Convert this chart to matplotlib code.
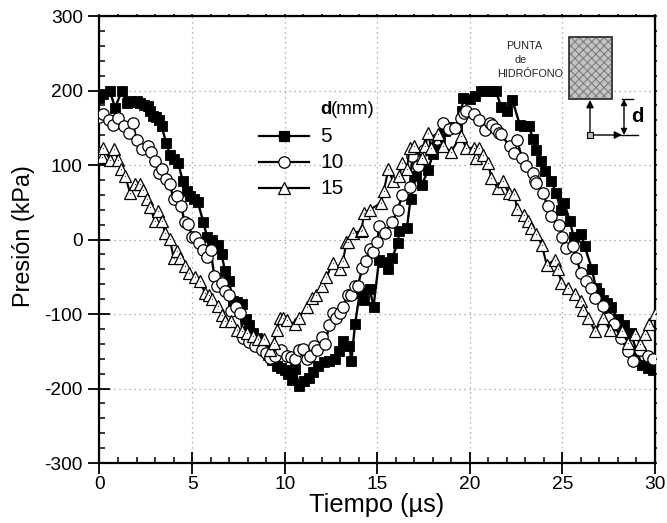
import matplotlib
matplotlib.use("Agg")
import matplotlib.pyplot as plt
from matplotlib.patches import Rectangle
from matplotlib.ticker import MultipleLocator

plt.rcParams['font.family'] = ['Liberation Sans', 'DejaVu Sans']
plt.rcParams['hatch.linewidth'] = 0.7
plt.rcParams['axes.unicode_minus'] = False

t5 = [0.0,0.2,0.56,0.84,1.2,1.47,1.65,1.85,2.05,2.2,2.4,2.6,2.75,2.9,3.05,3.2,3.35,3.6,3.8,4.0,4.25,4.5,4.7,4.9,5.1,5.3,5.6,5.8,6.1,6.4,6.6,6.77,7.0,7.2,7.45,7.67,7.9,8.1,8.3,8.5,8.7,8.9,9.1,9.3,9.56,9.8,10.0,10.2,10.4,10.55,10.8,11.05,11.3,11.55,11.8,12.1,12.4,12.7,12.95,13.15,13.5,13.6,13.8,14.05,14.3,14.6,14.8,15.1,15.35,15.6,15.8,16.1,16.2,16.6,16.8,17.1,17.4,17.75,18.0,18.2,18.4,18.65,18.9,19.1,19.3,19.55,19.65,20.0,20.3,20.6,20.8,21.0,21.2,21.4,21.7,22.0,22.3,22.7,22.95,23.2,23.4,23.6,23.85,24.04,24.4,24.67,24.9,25.1,25.4,25.6,26.0,26.2,26.6,26.8,27.0,27.2,27.4,27.6,28.0,28.35,28.7,29.0,29.3,29.6,29.9]
d5 = [190,195,199,177,199,183,186,185,186,183,181,179,172,166,164,161,152,130,114,108,103,78,65,58,55,51,24,4,0,-8,-20,-42,-56,-83,-84,-87,-107,-115,-125,-132,-140,-148,-155,-162,-170,-172,-175,-180,-188,-174,-197,-190,-186,-178,-170,-165,-163,-161,-150,-136,-143,-163,-114,-72,-81,-67,-90,-27,-30,-40,-25,-5,11,15,55,85,73,93,115,125,135,145,151,150,150,173,190,188,192,199,199,199,199,199,178,172,187,154,152,152,135,120,105,92,78,62,40,49,25,4,7,-9,-40,-65,-72,-81,-85,-90,-107,-115,-125,-150,-168,-172,-175]
t10 = [0.0,0.2,0.5,0.75,1.0,1.3,1.6,1.8,2.0,2.27,2.6,2.8,3.0,3.2,3.4,3.6,3.8,4.0,4.2,4.4,4.6,4.8,5.0,5.15,5.4,5.6,5.8,6.0,6.2,6.36,6.6,6.77,7.0,7.1,7.35,7.6,7.76,8.1,8.4,8.75,9.0,9.2,9.47,9.8,10.1,10.35,10.55,10.8,11.0,11.2,11.35,11.6,11.75,12.0,12.2,12.4,12.6,12.75,13.0,13.15,13.4,13.6,13.8,13.95,14.2,14.4,14.6,14.75,15.0,15.1,15.4,15.8,16.1,16.36,16.75,16.9,17.2,17.5,17.8,18.2,18.55,18.9,19.2,19.5,19.7,19.8,20.2,20.5,20.8,21.1,21.2,21.4,21.6,21.7,22.15,22.4,22.55,22.8,23.05,23.4,23.5,23.6,23.95,24.2,24.4,24.8,25.0,25.2,25.55,25.75,26.0,26.3,26.55,26.75,27.2,27.45,27.8,28.15,28.55,28.8,29.2,29.6,29.9]
d10 = [165,168,160,154,163,152,143,156,134,122,126,118,106,89,94,81,74,54,58,45,24,21,4,3,-5,-14,-23,-14,-49,-63,-58,-69,-74,-96,-90,-99,-132,-138,-143,-148,-152,-159,-157,-148,-157,-158,-160,-148,-147,-160,-157,-143,-148,-131,-140,-115,-98,-106,-98,-90,-74,-74,-62,-62,-38,-29,-13,-17,-4,18,9,23,40,60,71,112,98,120,130,135,157,148,150,163,170,172,168,161,147,157,154,148,143,141,125,116,134,110,99,89,78,76,62,45,31,20,4,-11,-9,-25,-45,-56,-65,-78,-89,-105,-114,-132,-150,-163,-148,-157,-161]
t15 = [0.0,0.12,0.2,0.57,0.8,1.0,1.15,1.4,1.65,1.92,2.2,2.37,2.55,2.73,3.0,3.18,3.4,3.53,3.8,4.0,4.17,4.35,4.6,4.85,5.15,5.42,5.7,5.9,6.1,6.4,6.6,6.77,7.1,7.4,7.67,7.94,8.3,8.57,8.9,9.2,9.4,9.6,9.74,9.9,10.1,10.55,10.76,11.2,11.45,11.7,12.0,12.25,12.6,12.97,13.15,13.33,13.4,13.7,14.1,14.15,14.3,14.6,15.2,15.35,15.6,15.85,16.2,16.35,16.6,16.75,17.0,17.4,17.6,17.75,17.9,18.3,18.55,19.0,19.5,19.8,20.2,20.35,20.5,20.7,21.0,21.15,21.5,21.8,22.1,22.4,22.55,22.9,23.15,23.3,23.6,23.9,24.15,24.6,24.75,24.95,25.3,25.7,26.0,26.1,26.4,26.75,27.2,27.55,28.2,28.55,28.9,29.2,29.45,29.7,30.0]
d15 = [118,111,123,107,121,107,95,85,62,74,74,66,54,43,25,38,25,9,1,-25,-16,-25,-35,-45,-50,-56,-72,-75,-80,-89,-102,-110,-110,-121,-123,-125,-130,-134,-134,-148,-139,-121,-105,-105,-108,-114,-105,-90,-78,-74,-62,-51,-31,-40,-29,-4,-4,9,11,13,36,40,49,65,94,78,85,103,94,123,125,109,126,143,123,141,125,118,139,123,123,109,123,114,103,83,69,78,62,61,41,33,25,16,7,-8,-34,-27,-40,-58,-65,-73,-82,-94,-105,-123,-105,-121,-123,-139,-127,-140,-127,-114,-100]
legend_labels = ['5', '10', '15']

W, H = 667, 523
fig = plt.figure(figsize=(W/100, H/100), dpi=100)
ax = fig.add_axes([99.5/W, 1-463/H, 555.5/W, 447/H])

MS_S, MS_C, MS_T = 7.3, 8.2, 9.0
ax.plot(t5, d5, '-s', color='k', mfc='k', mec='k', ms=MS_S, mew=0.6, lw=1.7, zorder=3)
ax.plot(t10, d10, '-o', color='k', mfc='w', mec='k', ms=MS_C, mew=0.9, lw=1.7, zorder=4)
ax.plot(t15, d15, '-^', color='k', mfc='w', mec='k', ms=MS_T, mew=0.9, lw=1.5, zorder=5)
ax.plot(t15, d15, 'o', color='#333333', ms=0.9, mew=0, zorder=5.5)

ax.set_xlim(0, 30)
ax.set_ylim(-300, 300)
ax.xaxis.set_major_locator(MultipleLocator(5))
ax.xaxis.set_minor_locator(MultipleLocator(1))
ax.yaxis.set_major_locator(MultipleLocator(100))
ax.yaxis.set_minor_locator(MultipleLocator(20))
ax.grid(True, which='major', color='#999999', linestyle=(0, (1, 3)), linewidth=0.9)
ax.set_axisbelow(True)
ax.tick_params(which='major', direction='inout', length=16, width=1.3, labelsize=13.8)
ax.tick_params(axis='x', which='major', pad=1.5)
ax.tick_params(axis='y', which='major', pad=4)
ax.tick_params(which='minor', direction='in', length=4.3, width=1.1)
for s in ax.spines.values():
    s.set_linewidth(1.6)

top = ax.secondary_xaxis('top')
top.xaxis.set_major_locator(MultipleLocator(1))
top.tick_params(which='major', direction='out', length=1.2, width=1.1, labeltop=False)
right = ax.secondary_yaxis('right')
right.yaxis.set_major_locator(MultipleLocator(20))
right.tick_params(which='major', direction='out', length=1.2, width=1.1, labelright=False)

fig.text(376.5/W, 1-505/H, 'Tiempo (\u00b5s)', fontsize=18.3, ha='center', va='center')
fig.text(24/W, 1-236/H, 'Presi\u00f3n (kPa)', fontsize=16.8, ha='center', va='center', rotation=90)

def px(x, y):
    return (x-99.5)/555.5, (463-y)/447
T = ax.transAxes
ax.text(*px(320, 109), 'd', transform=T, fontsize=13.5, fontweight='bold', va='center', ha='left', zorder=6)
ax.text(*px(331, 109), '(mm)', transform=T, fontsize=13.5, va='center', ha='left', zorder=6)
handles = [('s', 'k', MS_S), ('o', 'w', MS_C), ('^', 'w', MS_T)]
for (m, fc, ms), lab, y in zip(handles, legend_labels, (136, 162, 188)):
    x0, yy = px(259, y)
    x1, _ = px(309, y)
    ax.plot([x0, x1], [yy, yy], '-', color='k', lw=1.6, transform=T, zorder=6)
    ax.plot([(x0+x1)/2], [yy], m, mfc=fc, mec='k', ms=ms, mew=0.9, transform=T, zorder=6)
    ax.text(*px(320, y), lab, transform=T, fontsize=15, va='center', ha='left', zorder=6)

x0, y1 = px(569, 99)
x1, y0 = px(612, 37)
ax.add_patch(Rectangle((x0, y1), x1-x0, y0-y1, transform=T, facecolor='#c4c4c4', edgecolor='none', zorder=6))
ax.add_patch(Rectangle((x0, y1), x1-x0, y0-y1, transform=T, facecolor='none', edgecolor='#777777',
                       hatch='xxxx', lw=0, zorder=6))
ax.add_patch(Rectangle((x0, y1), x1-x0, y0-y1, transform=T, facecolor='none', edgecolor='#333333',
                       lw=1.3, zorder=6))
for txt, x, y in (('PUNTA', 524, 46), ('de', 521, 60), ('HIDR\u00d3FONO', 530, 74)):
    ax.text(*px(x, y), txt, transform=T, fontsize=7.8, ha='center', va='center', color='#222222', zorder=6)
arrow = dict(arrowstyle='-|>', color='k', lw=1.0, shrinkA=0, shrinkB=0, mutation_scale=11)
arrow2 = dict(arrowstyle='<|-|>', color='k', lw=1.0, shrinkA=0, shrinkB=0, mutation_scale=9)
ax.annotate('', xy=px(590, 100), xytext=px(590, 135), xycoords=T, textcoords=T, arrowprops=arrow, zorder=6)
ax.annotate('', xy=px(622, 135), xytext=px(590, 135), xycoords=T, textcoords=T, arrowprops=arrow, zorder=6)
ax.annotate('', xy=px(624, 99), xytext=px(624, 135), xycoords=T, textcoords=T, arrowprops=arrow2, zorder=6)
ax.plot(*zip(px(622, 99), px(633, 99)), color='k', lw=1, transform=T, zorder=6)
ax.plot(*zip(px(620, 135), px(638, 135)), color='k', lw=1, transform=T, zorder=6)
ax.plot(*px(590, 135), 's', mfc='#bbbbbb', mec='k', ms=5, mew=0.8, transform=T, zorder=6)
ax.text(*px(637, 116), 'd', transform=T, fontsize=14.5, fontweight='bold', ha='center', va='center', zorder=6)

fig.savefig('out.png', dpi=100)
